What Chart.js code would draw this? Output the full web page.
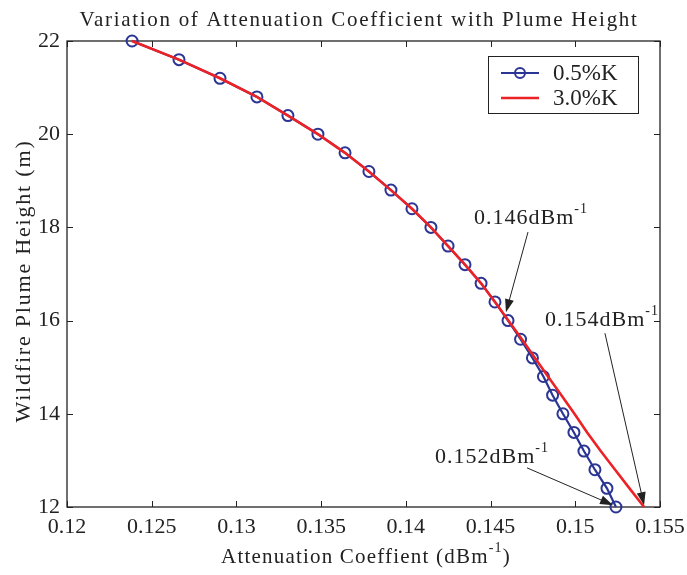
<!DOCTYPE html>
<html>
<head>
<meta charset="utf-8">
<script src="https://cdn.jsdelivr.net/npm/chart.js@4.4.1/dist/chart.umd.min.js"></script>
<style>
  html, body { margin: 0; padding: 0; background: #fff; }
  #wrap { width: 687px; height: 575px; }
</style>
</head>
<body>
<div id="wrap"><canvas id="attChart"></canvas></div>
<script>
// plume heights (m), one per marker
const heights = [22, 21.6, 21.2, 20.8, 20.4, 20, 19.6, 19.2, 18.8, 18.4, 18, 17.6, 17.2,
                 16.8, 16.4, 16, 15.6, 15.2, 14.8, 14.4, 14, 13.6, 13.2, 12.8, 12.4, 12];
// attenuation coefficient (dB/m)
const coeff05K = [0.12384, 0.12661, 0.12903, 0.13121, 0.13304, 0.13481, 0.13641, 0.13782,
                  0.13912, 0.14036, 0.14148, 0.14249, 0.14349, 0.14444, 0.14526, 0.14603,
                  0.14677, 0.14747, 0.14812, 0.14866, 0.14927, 0.14992, 0.15051, 0.15116,
                  0.15187, 0.15240];
const coeff30K = [0.12384, 0.12661, 0.12903, 0.13121, 0.13304, 0.13481, 0.13641, 0.13782,
                  0.13912, 0.14036, 0.14148, 0.14249, 0.14349, 0.14444, 0.14526, 0.14605,
                  0.14685, 0.14762, 0.14839, 0.14918, 0.14995, 0.15070, 0.15150, 0.15235,
                  0.15320, 0.15406];
const seriesLabels = ['0.5%K', '3.0%K'];
const xTicks = [0.12, 0.125, 0.13, 0.135, 0.14, 0.145, 0.15, 0.155];
const yTicks = [12, 14, 16, 18, 20, 22];

// callouts: label anchor and arrow (tail -> head), data coords
const notes = [
  { text: '0.146dBm', tx: 0.14402, ty: 18.07, ax: 0.14721, ay: 17.90, bx: 0.14591, by: 16.18 },
  { text: '0.154dBm', tx: 0.14821, ty: 15.88, ax: 0.15175, ay: 15.73, bx: 0.15406, by: 12.04 },
  { text: '0.152dBm', tx: 0.14172, ty: 12.94, ax: 0.14715, ay: 12.84, bx: 0.15223, by: 12.04 }
];

const BLUE = '#2b3594';
const RED = '#ec2227';
const INK = '#222';
const SERIF = "'Liberation Serif', 'Times New Roman', serif";

Chart.defaults.font.family = SERIF;

function pairs(ys, xs) {
  return ys.map((y, i) => ({ x: xs[i], y: y }));
}

function spaced(ctx, txt, x, y, spacing) {
  ctx.letterSpacing = spacing + 'px';
  ctx.fillText(txt, x, y);
  ctx.letterSpacing = '0px';
}

function arrow(ctx, x0, y0, x1, y1) {
  const a = Math.atan2(y1 - y0, x1 - x0);
  const len = 13, half = 4.5;
  ctx.strokeStyle = INK;
  ctx.lineWidth = 1;
  ctx.beginPath();
  ctx.moveTo(x0, y0);
  ctx.lineTo(x1 - Math.cos(a) * len * 0.8, y1 - Math.sin(a) * len * 0.8);
  ctx.stroke();
  ctx.fillStyle = INK;
  ctx.beginPath();
  ctx.moveTo(x1, y1);
  ctx.lineTo(x1 - Math.cos(a) * len - Math.sin(a) * half, y1 - Math.sin(a) * len + Math.cos(a) * half);
  ctx.lineTo(x1 - Math.cos(a) * len + Math.sin(a) * half, y1 - Math.sin(a) * len - Math.cos(a) * half);
  ctx.closePath();
  ctx.fill();
}

const matlabLook = {
  id: 'matlabLook',
  beforeDatasetsDraw(chart) {
    const { ctx, chartArea: ca, scales } = chart;
    ctx.save();
    ctx.strokeStyle = INK;
    ctx.lineWidth = 1.3;
    ctx.strokeRect(ca.left, ca.top, ca.right - ca.left, ca.bottom - ca.top);
    ctx.lineWidth = 1;
    ctx.beginPath();
    xTicks.forEach(v => {
      const px = Math.round(scales.x.getPixelForValue(v)) + 0.5;
      ctx.moveTo(px, ca.bottom); ctx.lineTo(px, ca.bottom - 6);
      ctx.moveTo(px, ca.top); ctx.lineTo(px, ca.top + 6);
    });
    yTicks.forEach(v => {
      const py = Math.round(scales.y.getPixelForValue(v)) + 0.5;
      ctx.moveTo(ca.left, py); ctx.lineTo(ca.left + 6, py);
      ctx.moveTo(ca.right, py); ctx.lineTo(ca.right - 6, py);
    });
    ctx.stroke();
    ctx.restore();
  },
  afterDraw(chart) {
    const { ctx, chartArea: ca, scales } = chart;
    const sx = scales.x, sy = scales.y;
    ctx.save();
    ctx.fillStyle = INK;

    // title
    ctx.font = '21px ' + SERIF;
    ctx.textAlign = 'center';
    ctx.textBaseline = 'alphabetic';
    spaced(ctx, 'Variation of Attenuation Coefficient with Plume Height', 359, 26, 1.7);

    // x axis title with superscript
    ctx.textAlign = 'left';
    ctx.font = '21px ' + SERIF;
    const xt = 'Attenuation Coeffient (dBm';
    ctx.letterSpacing = '1.2px';
    const w1 = ctx.measureText(xt).width;
    ctx.font = '14px ' + SERIF;
    const w2 = ctx.measureText('-1').width;
    ctx.font = '21px ' + SERIF;
    const w3 = ctx.measureText(')').width;
    let x0 = 366 - (w1 + w2 + w3) / 2;
    ctx.fillText(xt, x0, 563);
    ctx.font = '14px ' + SERIF;
    ctx.fillText('-1', x0 + w1, 552);
    ctx.font = '21px ' + SERIF;
    ctx.fillText(')', x0 + w1 + w2, 563);
    ctx.letterSpacing = '0px';

    // y axis title
    ctx.save();
    ctx.translate(30, 281);
    ctx.rotate(-Math.PI / 2);
    ctx.textAlign = 'center';
    ctx.font = '22px ' + SERIF;
    spaced(ctx, 'Wildfire Plume Height (m)', 0, 0, 1.8);
    ctx.restore();

    // callouts
    notes.forEach(n => {
      const tx = sx.getPixelForValue(n.tx), ty = sy.getPixelForValue(n.ty);
      ctx.textAlign = 'left';
      ctx.font = '22px ' + SERIF;
      ctx.letterSpacing = '1px';
      const w = ctx.measureText(n.text).width;
      ctx.fillText(n.text, tx, ty);
      ctx.font = '14px ' + SERIF;
      ctx.fillText('-1', tx + w, ty - 11);
      ctx.letterSpacing = '0px';
      arrow(ctx, sx.getPixelForValue(n.ax), sy.getPixelForValue(n.ay),
            sx.getPixelForValue(n.bx), sy.getPixelForValue(n.by));
    });

    // legend box
    const lx = ca.right - 172, ly = ca.top + 15, lw = 150, lh = 57;
    ctx.fillStyle = '#fff';
    ctx.fillRect(lx, ly, lw, lh);
    ctx.strokeStyle = INK;
    ctx.lineWidth = 1;
    ctx.strokeRect(lx + 0.5, ly + 0.5, lw, lh);
    const rows = [ly + 17, ly + 42];
    ctx.lineWidth = 2.2;
    ctx.strokeStyle = BLUE;
    ctx.beginPath(); ctx.moveTo(lx + 13, rows[0]); ctx.lineTo(lx + 51, rows[0]); ctx.stroke();
    ctx.lineWidth = 2;
    ctx.beginPath(); ctx.arc(lx + 32, rows[0], 5, 0, Math.PI * 2); ctx.stroke();
    ctx.lineWidth = 2.4;
    ctx.strokeStyle = RED;
    ctx.beginPath(); ctx.moveTo(lx + 13, rows[1]); ctx.lineTo(lx + 51, rows[1]); ctx.stroke();
    ctx.fillStyle = INK;
    ctx.font = '23px ' + SERIF;
    ctx.textAlign = 'left';
    ctx.textBaseline = 'middle';
    seriesLabels.forEach((s, i) => ctx.fillText(s, lx + 65, rows[i] + 1));
    ctx.restore();
  }
};

const ctx = document.getElementById('attChart').getContext('2d');
const attChart = new Chart(ctx, {
  type: 'scatter',
  data: {
    datasets: [
      {
        label: seriesLabels[1],
        data: pairs(heights, coeff30K),
        showLine: true,
        borderColor: RED,
        borderWidth: 2.6,
        pointRadius: 0,
        clip: false
      },
      {
        label: seriesLabels[0],
        data: pairs(heights, coeff05K),
        showLine: true,
        borderColor: BLUE,
        borderWidth: 2.2,
        pointRadius: 5.5,
        pointBorderWidth: 2,
        pointBorderColor: BLUE,
        pointBackgroundColor: 'rgba(0,0,0,0)',
        clip: false
      }
    ]
  },
  options: {
    responsive: true,
    maintainAspectRatio: false,
    animation: false,
    layout: { padding: { top: 41, right: 27, left: 0, bottom: 0 } },
    scales: {
      x: {
        type: 'linear',
        min: 0.12,
        max: 0.155,
        afterBuildTicks: s => { s.ticks = xTicks.map(v => ({ value: v })); },
        afterFit: s => { s.height = 68; s.paddingLeft = 0; s.paddingRight = 0; },
        grid: { display: false, drawTicks: false },
        border: { display: false },
        ticks: {
          padding: 7,
          color: INK,
          maxRotation: 0,
          font: { family: SERIF, size: 22 },
          callback: v => String(v)
        }
      },
      y: {
        min: 12,
        max: 22,
        afterBuildTicks: s => { s.ticks = yTicks.map(v => ({ value: v })); },
        afterFit: s => { s.width = 67; s.paddingTop = 0; s.paddingBottom = 0; },
        grid: { display: false, drawTicks: false },
        border: { display: false },
        ticks: {
          padding: 7,
          color: INK,
          font: { family: SERIF, size: 22 },
          callback: v => String(v)
        }
      }
    },
    plugins: {
      legend: { display: false },
      tooltip: { enabled: false }
    }
  },
  plugins: [matlabLook]
});
</script>
</body>
</html>
